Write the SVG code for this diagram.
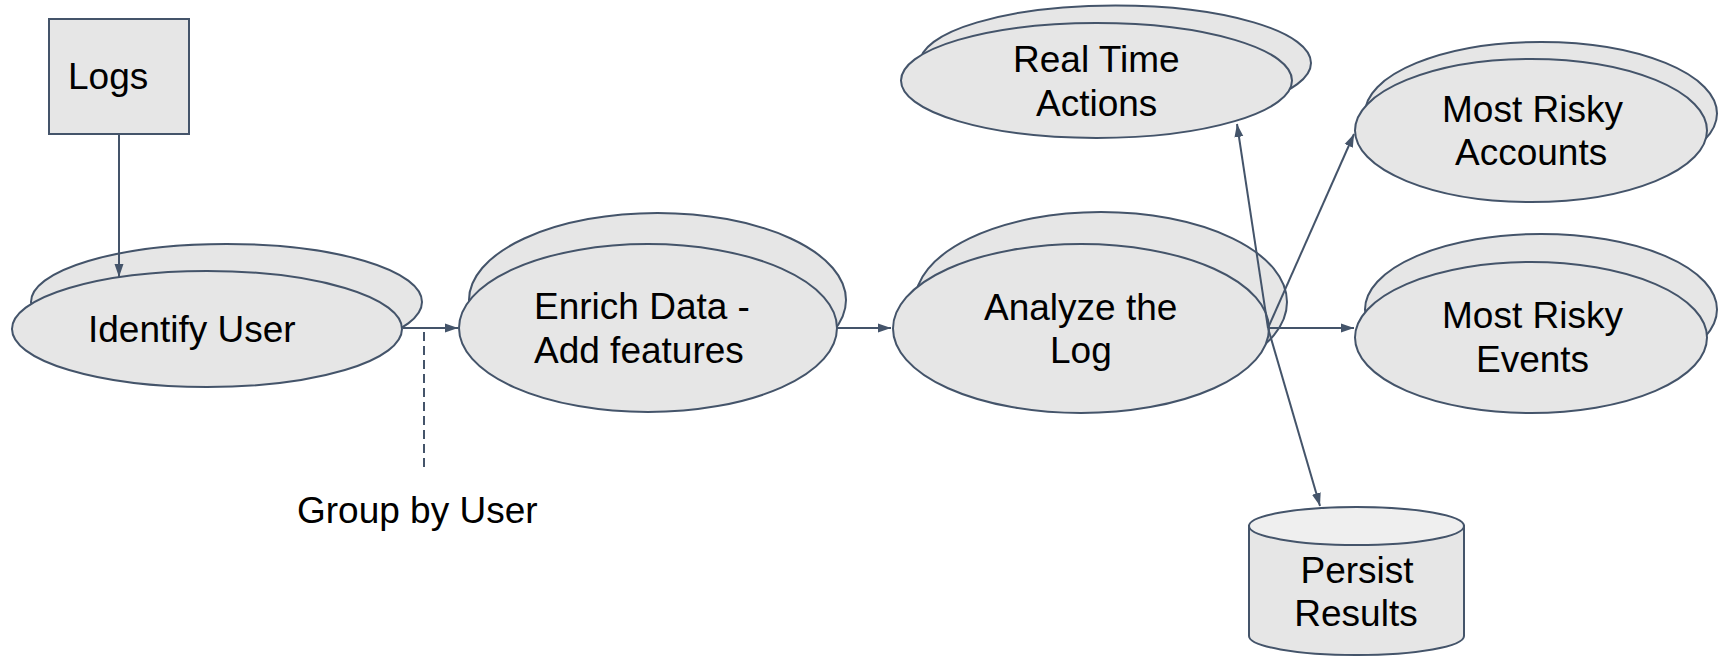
<svg xmlns="http://www.w3.org/2000/svg" width="1719" height="656" viewBox="0 0 1719 656">
  <style>
    .shape { fill: #e6e6e6; stroke: #44546a; stroke-width: 2; }
    .lid { fill: #efefef; stroke: #44546a; stroke-width: 2; }
    .edge { fill: none; stroke: #44546a; stroke-width: 2; }
    .dash { stroke-dasharray: 9 5; }
    .label { font-family: "Liberation Sans", Arial, sans-serif; font-size: 37px; fill: #000000; }
    .mid { text-anchor: middle; }
  </style>
  <defs>
    <marker id="arrow" markerUnits="userSpaceOnUse" markerWidth="14" markerHeight="10" refX="13" refY="5" orient="auto">
      <path d="M0,0.5 L13,5 L0,9.5 Z" fill="#44546a"/>
    </marker>
  </defs>

  <!-- Logs source -->
  <g id="logs">
    <rect class="shape" x="49" y="19" width="140" height="115"/>
    <text class="label" x="68" y="89">Logs</text>
  </g>

  <!-- Identify User (stacked) -->
  <g id="identify-user">
    <ellipse class="shape" cx="226.5" cy="302" rx="195.5" ry="58"/>
    <ellipse class="shape" cx="207" cy="329" rx="195" ry="58"/>
    <text class="label" x="88" y="342">Identify User</text>
  </g>

  <!-- Enrich Data (stacked) -->
  <g id="enrich-data">
    <ellipse class="shape" cx="657.5" cy="300" rx="188.5" ry="87"/>
    <ellipse class="shape" cx="648" cy="328" rx="189" ry="84"/>
    <text class="label" x="534" y="319">Enrich Data -</text>
    <text class="label" x="534" y="363">Add features</text>
  </g>

  <!-- Analyze the Log (stacked) -->
  <g id="analyze-log">
    <ellipse class="shape" cx="1101" cy="302" rx="186" ry="90"/>
    <ellipse class="shape" cx="1081" cy="328.5" rx="188" ry="84.5"/>
    <text class="label" x="984" y="320">Analyze the</text>
    <text class="label" x="1050" y="363">Log</text>
  </g>

  <!-- Real Time Actions (stacked) -->
  <g id="real-time-actions">
    <ellipse class="shape" cx="1115.5" cy="63" rx="195.5" ry="57.5"/>
    <ellipse class="shape" cx="1096.5" cy="80.5" rx="195.5" ry="57.5"/>
    <text class="label" x="1013" y="72">Real Time</text>
    <text class="label" x="1036" y="116">Actions</text>
  </g>

  <!-- Most Risky Accounts (stacked) -->
  <g id="risky-accounts">
    <ellipse class="shape" cx="1541" cy="113.5" rx="176" ry="71.5"/>
    <ellipse class="shape" cx="1531" cy="130.5" rx="176" ry="71.5"/>
    <text class="label" x="1442" y="122">Most Risky</text>
    <text class="label" x="1455" y="165">Accounts</text>
  </g>

  <!-- Most Risky Events (stacked) -->
  <g id="risky-events">
    <ellipse class="shape" cx="1541" cy="309.5" rx="176" ry="75.5"/>
    <ellipse class="shape" cx="1531" cy="337.5" rx="176" ry="75.5"/>
    <text class="label" x="1442" y="328">Most Risky</text>
    <text class="label" x="1476" y="372">Events</text>
  </g>

  <!-- Persist Results (datastore cylinder) -->
  <g id="persist-results">
    <path class="shape" d="M1249,526 L1249,636 A107.5,19 0 0 0 1464,636 L1464,526 Z"/>
    <ellipse class="lid" cx="1356.5" cy="526" rx="107.5" ry="19"/>
    <text class="label mid" x="1357" y="583">Persist</text>
    <text class="label mid" x="1356" y="626">Results</text>
  </g>

  <!-- Group by User annotation -->
  <g id="group-by-user">
    <text class="label" x="297" y="523">Group by User</text>
  </g>

  <!-- Connectors -->
  <g id="connectors">
    <line class="edge" x1="119" y1="134" x2="119" y2="277" marker-end="url(#arrow)"/>
    <line class="edge" x1="403" y1="328" x2="458" y2="328" marker-end="url(#arrow)"/>
    <line class="edge dash" x1="424" y1="332" x2="424" y2="468"/>
    <line class="edge" x1="837" y1="328" x2="891" y2="328" marker-end="url(#arrow)"/>
    <line class="edge" x1="1268" y1="328" x2="1237" y2="124" marker-end="url(#arrow)"/>
    <line class="edge" x1="1268" y1="328" x2="1354" y2="134" marker-end="url(#arrow)"/>
    <line class="edge" x1="1268" y1="328" x2="1354" y2="328" marker-end="url(#arrow)"/>
    <line class="edge" x1="1268" y1="328" x2="1320" y2="506" marker-end="url(#arrow)"/>
  </g>
</svg>
